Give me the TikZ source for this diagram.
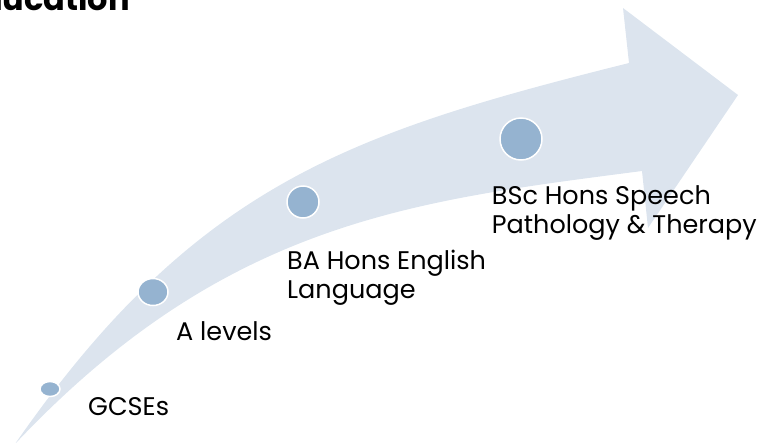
\documentclass[tikz,border=0pt]{standalone}
\usepackage{fontspec}
\setmainfont{Poppins}
\usetikzlibrary{shapes.geometric}
\definecolor{arrowfill}{HTML}{DCE4EE}
\definecolor{dotfill}{HTML}{95B3D0}
\begin{document}
\begin{tikzpicture}[x=1pt,y=-1pt,
  dot/.style={ellipse,fill=dotfill,draw=white,line width=1.5pt,inner sep=0pt},
  lbl/.style={anchor=base west,align=left,font=\fontsize{25.5}{29}\selectfont,inner sep=0pt,text=black}]
\useasboundingbox (0,0) rectangle (776,442);
\fill[arrowfill] (15,444) .. controls (195,184.8) and (349,133) .. (629,63)
  -- (623,8) -- (738,95) -- (648,228) -- (642,171)
  .. controls (412,200.9) and (225,221.4) .. (15,444) -- cycle;
\node[dot,minimum width=20pt,minimum height=15pt] (d1) at (50,389) {};
\node[dot,minimum width=30pt,minimum height=27pt] (d2) at (153,292) {};
\node[dot,minimum width=32pt,minimum height=32pt] (d3) at (303,202) {};
\node[dot,minimum width=42pt,minimum height=42pt] (d4) at (521,139) {};
\node[lbl] (t1) at (88,415) {GCSEs};
\node[lbl] (t2) at (176,340.7) {A levels};
\node[lbl] (t3) at (287,298.3) {BA Hons English\\Language};
\node[lbl] (t4) at (491.7,233.3) {BSc Hons Speech\\Pathology \& Therapy};
\node[anchor=base east,inner sep=0pt,font=\bfseries\fontsize{32}{36}\selectfont] (title) at (130,10) {Education};
\end{tikzpicture}
\end{document}
